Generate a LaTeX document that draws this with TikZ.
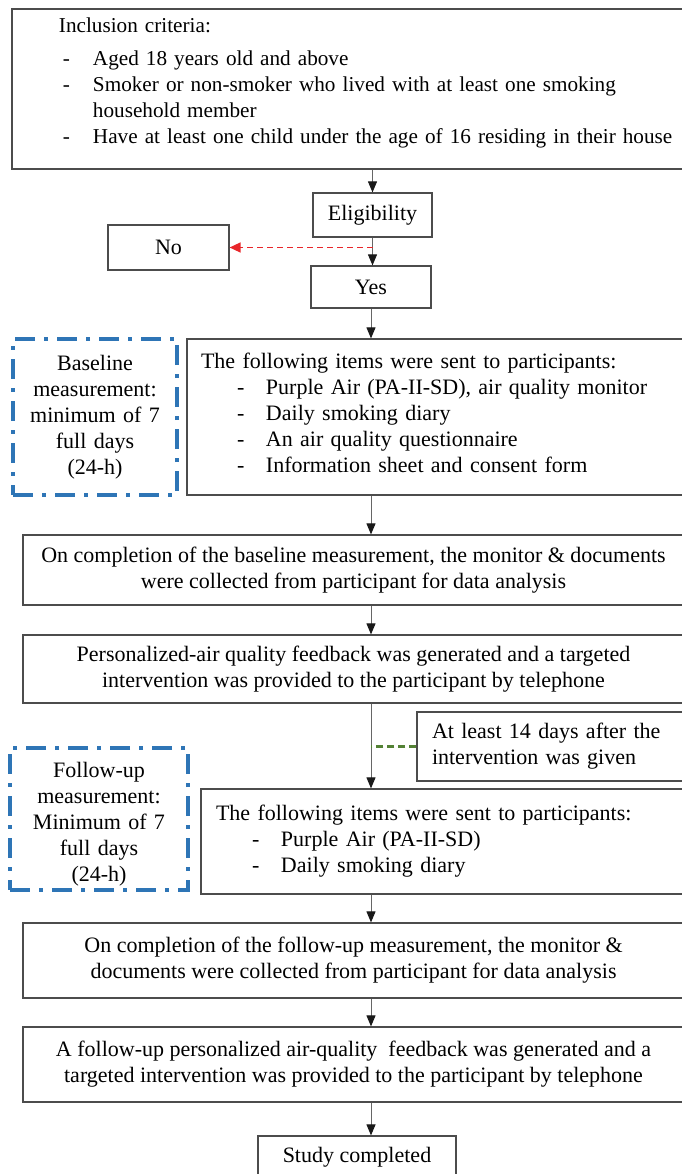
\documentclass[tikz,border=0pt]{standalone}
\usepackage{fontspec}
\setmainfont{Liberation Serif}
\usetikzlibrary{arrows.meta}

\definecolor{measblue}{HTML}{2E75B6}
\definecolor{nored}{HTML}{E8262A}
\definecolor{waitgreen}{HTML}{548235}

\newcommand{\flowfont}{\fontsize{22pt}{26pt}\selectfont}
\newcommand{\critem}[1]{\makebox[34pt][l]{\hspace*{4pt}-}#1}
\newcommand{\senditem}[1]{\makebox[65pt][l]{\hspace*{36pt}-}#1}

\begin{document}
\begin{tikzpicture}[
                x=1pt, y=-1pt,
                box/.style={draw=black!70, line width=1.2pt, inner sep=0pt, font=\flowfont},
                leftpad/.style={align=left, execute at begin node={\setlength{\leftskip}{#1}}},
                measbox/.style={draw=measblue, line width=4pt, inner sep=0pt, align=center,
                        dash pattern=on 20pt off 9pt on 4pt off 9pt, font=\flowfont},
                arr/.style={draw=black!60, line width=1pt, -{Triangle[length=11pt,width=9pt,black!90]}},
                nolink/.style={draw=nored, line width=1.5pt, dash pattern=on 6pt off 4pt,
                        -{Triangle[length=11pt,width=10pt]}},
                waitlink/.style={draw=waitgreen, line width=2.2pt, dash pattern=on 7pt off 4pt}
            ]
            \useasboundingbox (0,0) rectangle (681,1174);

            % screening
            \node[box, font=\fontsize{21.2pt}{26pt}\selectfont, leftpad=47pt, text width=672pt,
                minimum height=160pt] (crit) at (348,89)
            {Inclusion criteria:\\[7pt]
                \critem{Aged 18 years old and above}\\
                \critem{Smoker or non-smoker who lived with at least one smoking}\\
                \hspace*{34pt}household member\\
                \critem{Have at least one child under the age of 16 residing in their house\rule[-16pt]{0pt}{0pt}}};
            \node[box, minimum width=119pt, minimum height=44pt] (elig) at (372.5,215) {Eligibility};
            \node[box, minimum width=121pt, minimum height=45pt] (no) at (168.5,247.5) {No};
            \node[box, minimum width=120pt, minimum height=42pt] (yes) at (371,287) {Yes};

            % baseline
            \node[measbox, text width=164pt, minimum height=156pt] (basem) at (95,417)
            {Baseline\\ measurement:\\ minimum of 7\\ full days\\ (24-h)};
            \node[box, leftpad=14pt, text width=497pt, minimum height=156pt] (send1) at (435.5,417)
            {The following items were sent to participants:\\
                \senditem{Purple Air (PA-II-SD), air quality monitor}\\
                \senditem{Daily smoking diary}\\
                \senditem{An air quality questionnaire}\\
                \senditem{Information sheet and consent form\rule[-8pt]{0pt}{0pt}}};
            \node[box, align=center, minimum width=661pt, minimum height=70pt] (comp1) at (353.5,570)
            {On completion of the baseline measurement, the monitor \& documents\\
                were collected from participant for data analysis};
            \node[box, align=center, minimum width=661pt, minimum height=68pt] (pers) at (353.5,669)
            {Personalized-air quality feedback was generated and a targeted\\
                intervention was provided to the participant by telephone};

            % follow-up
            \node[box, leftpad=15pt, text width=267pt, minimum height=69pt] (gap) at (550.5,746.5)
            {At least 14 days after the\\ intervention was given};
            \node[measbox, text width=178pt, minimum height=142pt] (follm) at (99,819)
            {\rule{0pt}{26pt}Follow-up\\ measurement:\\ Minimum of 7\\ full days\\ (24-h)};
            \node[box, leftpad=15pt, text width=483pt, minimum height=105pt] (send2) at (442.5,841.5)
            {The following items were sent to participants:\\
                \senditem{Purple Air (PA-II-SD)}\\
                \senditem{Daily smoking diary}};
            \node[box, align=center, minimum width=661pt, minimum height=75pt] (comp2) at (353.5,960.5)
            {On completion of the follow-up measurement, the monitor \&\\
                documents were collected from participant for data analysis};
            \node[box, align=center, minimum width=661pt, minimum height=75pt] (final) at (353.5,1064.5)
            {A follow-up personalized air-quality~ feedback was generated and a\\
                targeted intervention was provided to the participant by telephone};
            \node[box, minimum width=198pt, minimum height=42pt] (study) at (357,1157) {Study completed};

            % connectors
            \coordinate (split) at (elig.south |- no.east);
            \draw[arr] (crit.south -| elig.north) -- (elig.north);
            \draw[arr] (elig.south) -- (elig.south |- yes.north);
            \draw[nolink] (split) -- (no.east);
            \draw[arr] (yes.south) -- (yes.south |- send1.north);
            \draw[arr] (send1.south -| yes) -- (comp1.north -| yes);
            \draw[arr] (comp1.south -| yes) -- (pers.north -| yes);
            \draw[arr] (pers.south -| yes) -- (send2.north -| yes);
            \draw[waitlink] (gap.west) -- (gap.west -| yes);
            \draw[arr] (send2.south -| yes) -- (comp2.north -| yes);
            \draw[arr] (comp2.south -| yes) -- (final.north -| yes);
            \draw[arr] (final.south -| yes) -- (study.north -| yes);

        \end{tikzpicture}
\end{document}
